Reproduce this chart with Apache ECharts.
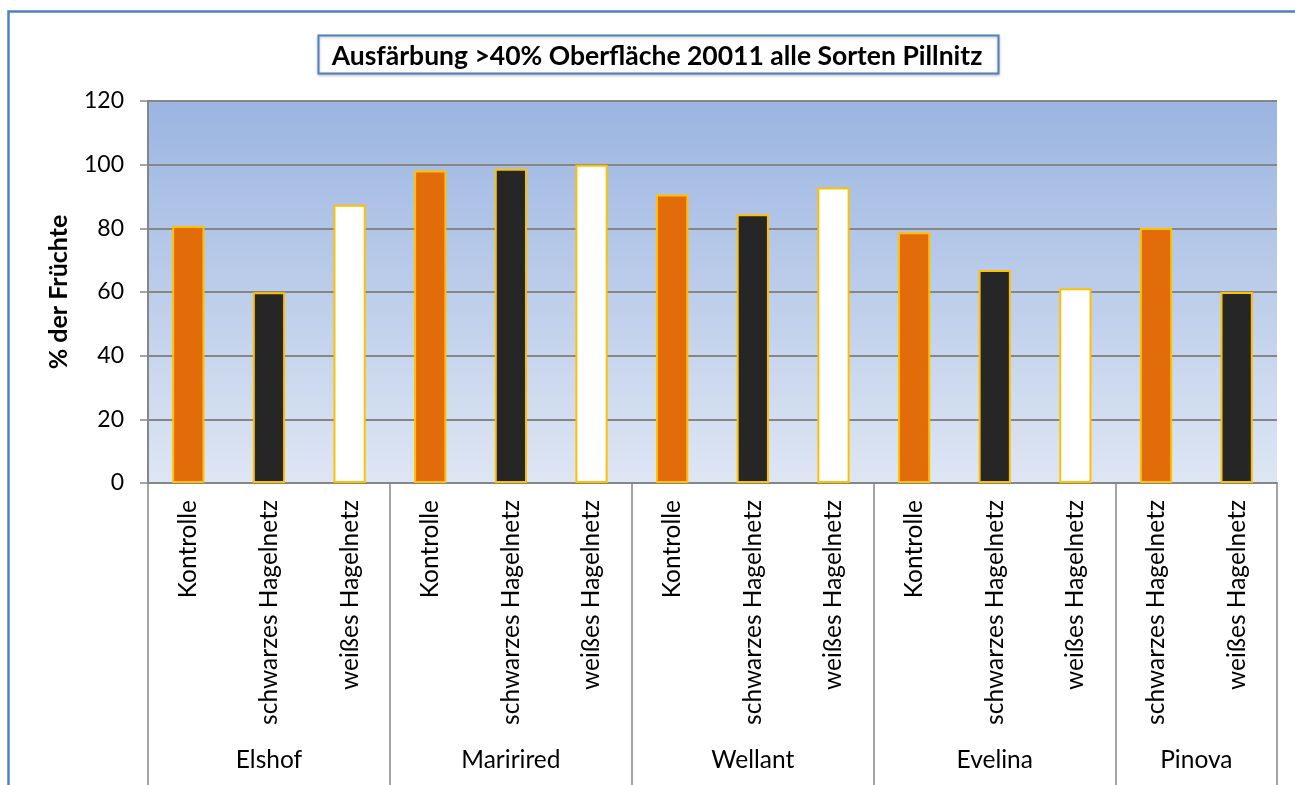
<!DOCTYPE html>
<html>
<head>
<meta charset="utf-8">
<script src="https://cdn.jsdelivr.net/npm/echarts@6/dist/echarts.min.js"></script>
<style>
  html, body { margin: 0; padding: 0; background: #fff; }
  #chart { width: 1295px; height: 785px; }
</style>
</head>
<body>
<div id="chart"></div>
<script>
// Sorten und Gruppengröße
const groups = ["Elshof", "Maririred", "Wellant", "Evelina", "Pinova"];
const groupSizes = [3, 3, 3, 3, 2];
// Varianten je Balken
const treatments = [
  "Kontrolle", "schwarzes Hagelnetz", "weißes Hagelnetz",
  "Kontrolle", "schwarzes Hagelnetz", "weißes Hagelnetz",
  "Kontrolle", "schwarzes Hagelnetz", "weißes Hagelnetz",
  "Kontrolle", "schwarzes Hagelnetz", "weißes Hagelnetz",
  "schwarzes Hagelnetz", "weißes Hagelnetz"
];
// % der Früchte
const values = [80.7, 59.9, 87.4, 98.2, 98.7, 100, 90.6, 84.4, 92.8, 78.8, 66.9, 61.2, 80.1, 60];
const yTicks = [0, 20, 40, 60, 80, 100, 120];

const barColors = ["#e36c0a", "#262626", "#ffffff"];
const font = "Lato";

// Gruppengrenzen und Mitten (in Kategorie-Einheiten)
const bounds = [0];
const centers = [];
const slot = [];
groupSizes.forEach(function (n) {
  const start = bounds[bounds.length - 1];
  centers.push(start + n / 2);
  bounds.push(start + n);
  for (let i = 0; i < n; i++) slot.push(i);
});

const myChart = echarts.init(document.getElementById("chart"));
const option = {
  backgroundColor: "#fff",
  animation: false,
  title: {
    text: "Ausfärbung >40% Oberfläche 20011 alle Sorten Pillnitz",
    left: 652,
    top: 38,
    textAlign: "center",
    textStyle: { fontFamily: font, fontWeight: "bold", fontSize: 26.5, color: "#000" }
  },
  graphic: [
    {
      type: "rect",
      z: -1,
      shape: { x: 8.5, y: 11.5, width: 1400, height: 900 },
      style: { fill: "#fff", stroke: "#4f81bd", lineWidth: 2.5 }
    },
    {
      type: "rect",
      z: 1,
      shape: { x: 318.5, y: 35.5, width: 680, height: 38 },
      style: { fill: "#fff", stroke: "#4f81bd", lineWidth: 2, shadowColor: "rgba(0,0,0,0.25)", shadowBlur: 3, shadowOffsetY: 1 }
    }
  ],
  grid: {
    left: 148,
    right: 18,
    top: 101,
    bottom: 302,
    show: true,
    borderWidth: 0,
    backgroundColor: new echarts.graphic.LinearGradient(0, 0, 0, 1, [
      { offset: 0, color: "#9bb5e1" },
      { offset: 1, color: "#dee6f3" }
    ])
  },
  xAxis: [
    {
      type: "category",
      data: treatments,
      position: "bottom",
      axisLine: { lineStyle: { color: "#868686", width: 2 } },
      axisTick: { interval: 0, length: 243, lineStyle: { color: "#868686", width: 1.5 } },
      axisLabel: {
        interval: 0,
        rotate: 90,
        margin: 17,
        fontFamily: font,
        fontSize: 24.5,
        color: "#000"
      }
    },
    {
      type: "value",
      min: 0,
      max: treatments.length,
      position: "bottom",
      axisLine: { show: false },
      splitLine: { show: false },
      axisTick: {
        show: true,
        customValues: bounds,
        length: 320,
        lineStyle: { color: "#868686", width: 1.5 }
      },
      axisLabel: {
        customValues: centers,
        margin: 265,
        fontFamily: font,
        fontSize: 24.5,
        color: "#000",
        formatter: function (v) {
          const i = centers.indexOf(v);
          return i >= 0 ? groups[i] : "";
        }
      }
    }
  ],
  yAxis: {
    type: "value",
    min: 0,
    max: 120,
    interval: 20,
    name: "% der Früchte",
    nameLocation: "middle",
    nameGap: 77,
    nameTextStyle: { fontFamily: font, fontWeight: "bold", fontSize: 25, color: "#000" },
    axisLine: { show: true, lineStyle: { color: "#868686", width: 2 } },
    axisTick: { show: true, length: 8, lineStyle: { color: "#868686", width: 1.5 } },
    axisLabel: {
      fontFamily: font,
      fontSize: 23,
      color: "#000",
      margin: 24,
      formatter: function (v) { return yTicks.indexOf(v) >= 0 ? String(v) : ""; }
    },
    splitLine: { lineStyle: { color: "#868686", width: 2 } }
  },
  series: [
    {
      type: "bar",
      xAxisIndex: 0,
      data: values,
      barWidth: "40%",
      itemStyle: {
        color: function (p) { return barColors[slot[p.dataIndex]]; },
        borderColor: "#ffc000",
        borderWidth: 2
      }
    }
  ]
};
myChart.setOption(option);
</script>
</body>
</html>
